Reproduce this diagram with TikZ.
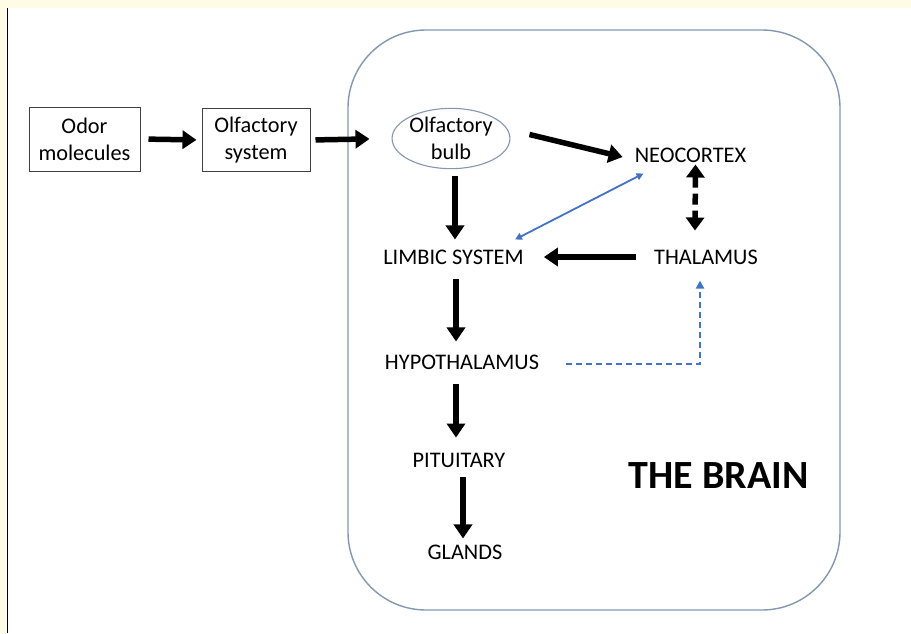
\documentclass[tikz,border=0pt]{standalone}
\usepackage{fontspec}
\setmainfont{Carlito}
\usetikzlibrary{arrows.meta,calc,shapes.geometric}
\definecolor{cream}{HTML}{FFFCE6}
\definecolor{frameblue}{HTML}{8497B0}
\definecolor{linkblue}{HTML}{4472C4}
\definecolor{boxline}{HTML}{404040}
\tikzset{
  lbl/.style={inner sep=0pt, font=\fontsize{22.3}{27}\selectfont, align=center},
  boxed/.style={draw=boxline, line width=1pt, inner sep=0pt, font=\fontsize{22.3}{27}\selectfont, align=center},
  thick arrow/.style={line width=5.5pt, -{Triangle[length=14pt,width=18pt]}},
  thin link/.style={linkblue, line width=1.8pt, {Triangle[length=7pt,width=7pt]}-{Triangle[length=7pt,width=7pt]}},
}
\begin{document}
\begin{tikzpicture}[x=1pt,y=-1pt]
\useasboundingbox (0,0) rectangle (911,633);
\fill[cream] (0,0) rectangle (911,8);
\fill[cream] (0,0) rectangle (6,633);
\fill[white] (6,8) rectangle (911,633);
\draw[black, line width=1.3pt] (7.5,8) -- (7.5,633);
% brain frame
\draw[frameblue, line width=1.4pt, rounded corners=78pt] (348,30) rectangle (840,610);
% nodes
\node[boxed, minimum width=111pt, minimum height=64pt] (odor) at (84.5,139) {Odor\\molecules};
\node[boxed, minimum width=108pt, minimum height=63pt] (olf) at (256,140) {Olfactory\\system};
\node[ellipse, draw=frameblue, line width=1.1pt, inner sep=0pt, minimum width=113pt, minimum height=53pt, font=\fontsize{22.3}{27}\selectfont, align=center] (bulb) at (451,138.5) {Olfactory\\bulb};
\node[lbl] (neo) at (690.5,155) {NEOCORTEX};
\node[lbl] (lim) at (453.5,257) {LIMBIC SYSTEM};
\node[lbl] (thal) at (706,257) {THALAMUS};
\node[lbl] (hyp) at (462,362) {HYPOTHALAMUS};
\node[lbl] (pit) at (459,460) {PITUITARY};
\node[lbl] (gla) at (465,552) {GLANDS};
\node[inner sep=0pt, font=\fontsize{40}{44}\selectfont\bfseries] (brain) at (718.5,476) {THE BRAIN};
% arrows
\draw[thick arrow, shorten <=8pt, shorten >=5pt] (odor.east) -- (olf.west);
\draw[thick arrow, shorten <=5pt, shorten >=22pt] (olf.east) -- (bulb.west);
\draw[thick arrow] ($(bulb.east)+(19,-4)$) -- ($(neo.west)+(-12,2)$);
\draw[thick arrow] ($(bulb.south)+(4,7)$) -- ($(lim.north)+(1.5,-10)$);
\draw[line width=5.5pt, dash pattern=on 11pt off 6pt, {Triangle[length=13pt,width=18pt]}-{Triangle[length=13pt,width=18pt]}] ($(neo.south)+(5,2)$) -- ($(thal.north)+(-11,-19)$);
\draw[thin link] ($(neo.south)+(-47,11)$) -- ($(lim.north)+(61.5,-10)$);
\draw[thick arrow] ($(thal.west)+(-18,0)$) -- ($(lim.east)+(20,0)$);
\draw[thick arrow] ($(lim.south)+(2.5,14)$) -- ($(hyp.north)+(-6,-13)$);
\draw[linkblue, line width=2.2pt, dash pattern=on 6pt off 4pt, -{Triangle[length=8pt,width=8pt]}] ($(hyp.east)+(27,2)$) -| ($(thal.south)+(-6,16)$);
\draw[thick arrow] ($(hyp.south)+(-6,14)$) -- ($(pit.north)+(-3,-15)$);
\draw[thick arrow] ($(pit.south)+(4,10)$) -- ($(gla.north)+(-2,-6)$);
\end{tikzpicture}
\end{document}
